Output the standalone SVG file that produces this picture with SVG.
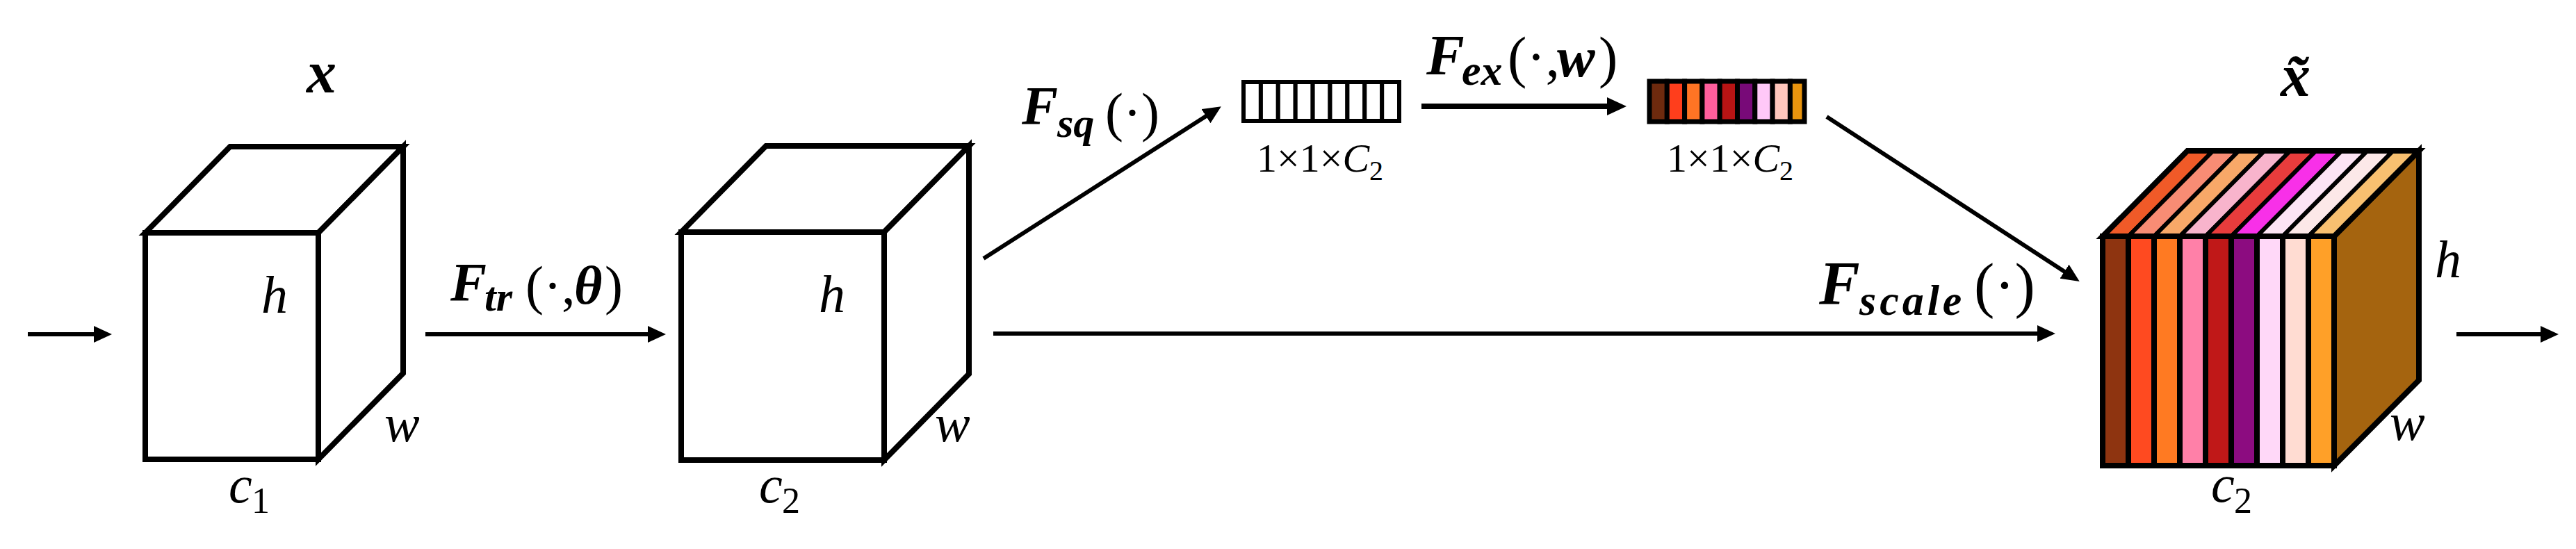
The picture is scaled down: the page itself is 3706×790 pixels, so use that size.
<svg xmlns="http://www.w3.org/2000/svg" width="3706" height="790" viewBox="0 0 3706 790">
<style>
.t{font-family:"Liberation Serif","Times New Roman",serif;fill:#000}
.bi{font-weight:bold;font-style:italic}
.i{font-style:italic}
.box{fill:#fff;stroke:#000;stroke-width:8;stroke-linejoin:miter}
.ln{stroke:#000;stroke-width:6;fill:none}
.lnb{stroke:#000;stroke-width:8;fill:none}
.cell{stroke:#000;stroke-width:6}
.cellb{stroke:#000;stroke-width:7}
.st{stroke:#000;stroke-width:8}
.stt{stroke:#000;stroke-width:6;stroke-linejoin:miter}
</style>
<defs>
<marker id="ah" markerUnits="userSpaceOnUse" markerWidth="30" markerHeight="26" refX="6" refY="12" orient="auto"><path d="M0,0 L26,12 L0,24 z" fill="#000"/></marker>
<marker id="ahb" markerUnits="userSpaceOnUse" markerWidth="32" markerHeight="28" refX="6" refY="13" orient="auto"><path d="M0,0 L28,13 L0,26 z" fill="#000"/></marker>
</defs>
<rect width="3706" height="790" fill="#fff"/>

<g id="connectors">
<line class="ln" x1="40" y1="481" x2="141" y2="481" marker-end="url(#ah)"/>
<line class="ln" x1="612" y1="481" x2="938" y2="481" marker-end="url(#ah)"/>
<line class="ln" x1="1415" y1="372" x2="1740" y2="164" marker-end="url(#ah)"/>
<line class="lnb" x1="2045" y1="153" x2="2318" y2="153" marker-end="url(#ahb)"/>
<line class="ln" x1="2628" y1="168" x2="2975" y2="394" marker-end="url(#ah)"/>
<line class="ln" x1="1429" y1="480" x2="2937" y2="480" marker-end="url(#ah)"/>
<line class="ln" x1="3534" y1="481" x2="3661" y2="481" marker-end="url(#ah)"/>
<text class="t" font-size="78"><tspan class="bi" x="648" y="432">F</tspan><tspan class="bi" font-size="60" x="697" y="447">tr</tspan><tspan x="756" y="437">(·,</tspan><tspan class="bi" x="826" y="437">θ</tspan><tspan x="870" y="437">)</tspan></text>
<text class="t" font-size="78"><tspan class="bi" x="1470" y="178">F</tspan><tspan class="bi" font-size="60" x="1521" y="197">sq</tspan><tspan x="1590" y="188">(·)</tspan></text>
<text class="t" font-size="82"><tspan class="bi" x="2052" y="107">F</tspan><tspan class="bi" font-size="62" x="2103" y="122">ex</tspan><tspan x="2169" y="110">(·,</tspan><tspan class="bi" x="2240" y="110">w</tspan><tspan x="2300" y="110">)</tspan></text>
<text class="t" font-size="88"><tspan class="bi" x="2617" y="437">F</tspan><tspan class="bi" font-size="62" letter-spacing="5" x="2675" y="453">scale</tspan><tspan x="2840" y="440">(·)</tspan></text>
</g>

<g id="cube-x">
<polygon class="box" points="209,335 331,211 580,211 458,335"/>
<polygon class="box" points="458,335 580,211 580,537 458,661"/>
<rect class="box" x="209" y="335" width="249" height="326"/>
<text class="t bi" font-size="86" x="441" y="133">x</text>
<text class="t i" font-size="76" x="376" y="450">h</text>
<text class="t i" font-size="76" x="553" y="635">w</text>
<text class="t" font-size="76"><tspan class="i" x="329" y="723">c</tspan><tspan font-size="52" x="362" y="738">1</tspan></text>
</g>

<g id="cube-u">
<polygon class="box" points="980,334 1102,210 1394,210 1272,334"/>
<polygon class="box" points="1272,334 1394,210 1394,538 1272,662"/>
<rect class="box" x="980" y="334" width="292" height="328"/>
<text class="t i" font-size="76" x="1178" y="449">h</text>
<text class="t i" font-size="76" x="1345" y="635">w</text>
<text class="t" font-size="76"><tspan class="i" x="1092" y="723">c</tspan><tspan font-size="52" x="1125" y="738">2</tspan></text>
</g>

<g id="vector-sq">
<g class="cell" fill="#fff">
<rect x="1789" y="118" width="24.9" height="56"/>
<rect x="1813.9" y="118" width="24.9" height="56"/>
<rect x="1838.8" y="118" width="24.9" height="56"/>
<rect x="1863.7" y="118" width="24.9" height="56"/>
<rect x="1888.6" y="118" width="24.9" height="56"/>
<rect x="1913.5" y="118" width="24.9" height="56"/>
<rect x="1938.4" y="118" width="24.9" height="56"/>
<rect x="1963.3" y="118" width="24.9" height="56"/>
<rect x="1988.2" y="118" width="24.8" height="56"/>
</g>
<text class="t" font-size="58"><tspan x="1808" y="247">1×1×</tspan><tspan class="i">C</tspan><tspan font-size="40" dy="12">2</tspan></text>
</g>

<g id="vector-ex">
<g class="cellb">
<rect x="2373" y="117" width="25.3" height="58" fill="#6E2A0E"/>
<rect x="2398.3" y="117" width="25.3" height="58" fill="#FF3E1C"/>
<rect x="2423.6" y="117" width="25.3" height="58" fill="#FF7424"/>
<rect x="2448.9" y="117" width="25.3" height="58" fill="#FF5E9C"/>
<rect x="2474.2" y="117" width="25.3" height="58" fill="#B81414"/>
<rect x="2499.5" y="117" width="25.3" height="58" fill="#780A78"/>
<rect x="2524.8" y="117" width="25.3" height="58" fill="#FFC8F8"/>
<rect x="2550.1" y="117" width="25.3" height="58" fill="#FFC6BC"/>
<rect x="2575.4" y="117" width="20.6" height="58" fill="#E8940E"/>
</g>
<text class="t" font-size="58"><tspan x="2398" y="247">1×1×</tspan><tspan class="i">C</tspan><tspan font-size="40" dy="12">2</tspan></text>
</g>

<g id="cube-xtilde">
<polygon class="box" points="3358,340 3480,217 3480,547 3358,670" style="fill:#A5640F"/>
<g class="stt">
<polygon points="3025,340 3147,217 3184,217 3062,340" fill="#F05A28"/>
<polygon points="3062,340 3184,217 3221,217 3099,340" fill="#F88C74"/>
<polygon points="3099,340 3221,217 3258,217 3136,340" fill="#F8A868"/>
<polygon points="3136,340 3258,217 3295,217 3173,340" fill="#F8B4CC"/>
<polygon points="3173,340 3295,217 3332,217 3210,340" fill="#E83C3C"/>
<polygon points="3210,340 3332,217 3369,217 3247,340" fill="#F830E8"/>
<polygon points="3247,340 3369,217 3406,217 3284,340" fill="#FCE4F4"/>
<polygon points="3284,340 3406,217 3443,217 3321,340" fill="#FCE8E8"/>
<polygon points="3321,340 3443,217 3480,217 3358,340" fill="#F8C070"/>
</g>
<polygon points="3025,340 3147,217 3480,217 3358,340" fill="none" stroke="#000" stroke-width="8"/>
<g class="st">
<rect x="3025" y="340" width="37" height="330" fill="#8E3410"/>
<rect x="3062" y="340" width="37" height="330" fill="#FF4A20"/>
<rect x="3099" y="340" width="37" height="330" fill="#FF7A22"/>
<rect x="3136" y="340" width="37" height="330" fill="#FF80A8"/>
<rect x="3173" y="340" width="37" height="330" fill="#C01818"/>
<rect x="3210" y="340" width="37" height="330" fill="#8C0C80"/>
<rect x="3247" y="340" width="37" height="330" fill="#FFD8F8"/>
<rect x="3284" y="340" width="37" height="330" fill="#FFDCD2"/>
<rect x="3321" y="340" width="37" height="330" fill="#FFA028"/>
</g>
<text class="t bi" font-size="86" x="3281" y="138">x̃</text>
<text class="t i" font-size="76" x="3503" y="399">h</text>
<text class="t i" font-size="76" x="3438" y="633">w</text>
<text class="t" font-size="76"><tspan class="i" x="3181" y="722">c</tspan><tspan font-size="52" x="3214" y="738">2</tspan></text>
</g>
</svg>
